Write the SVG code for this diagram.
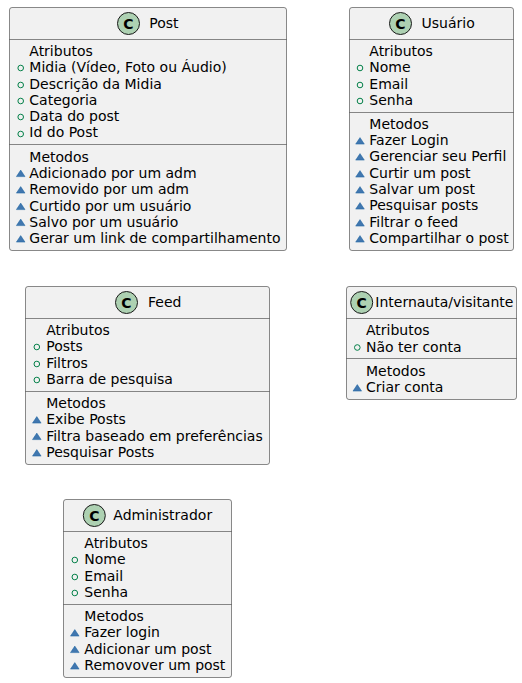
<svg xmlns="http://www.w3.org/2000/svg" width="522" height="683" viewBox="0 0 522 683">
<style>
text{font-family:"DejaVu Sans",sans-serif;font-size:14px;fill:#000}
.box{fill:#F1F1F1;stroke:#181818;stroke-width:.5}
.sep{stroke:#181818;stroke-width:.5;fill:none}
.ic{fill:#ADD1B2;stroke:#181818;stroke-width:1}
.c{font-weight:bold;font-size:14px;text-anchor:middle}
.o{fill:none;stroke:#038048;stroke-width:1}
.t{fill:#4177AF;stroke:#1963A0;stroke-width:.5}
</style>
<defs>
<circle id="o" class="o" r="2.8"/>
<polygon id="t" class="t" points="-4.3,3.1 4.3,3.1 0,-3.4"/>
</defs>
<g id="Post">
<rect class="box" x="9.5" y="7.5" width="277" height="243" rx="2.5"/>
<circle class="ic" cx="128.5" cy="23.5" r="11"/><text class="c" x="128.5" y="28.5">C</text>
<text x="149.3" y="28">Post</text>
<path class="sep" d="M9.5 39.5H286.5M9.5 144.5H286.5"/>
<text x="29.3" y="56">Atributos</text>
<use href="#o" x="20.7" y="68"/><text x="29.3" y="72">Midia (Vídeo, Foto ou Áudio)</text>
<use href="#o" x="20.7" y="85"/><text x="29.3" y="89">Descrição da Midia</text>
<use href="#o" x="20.7" y="101"/><text x="29.3" y="105">Categoria</text>
<use href="#o" x="20.7" y="117"/><text x="29.3" y="121">Data do post</text>
<use href="#o" x="20.7" y="134"/><text x="29.3" y="137">Id do Post</text>
<text x="29.3" y="162">Metodos</text>
<use href="#t" x="20.7" y="173.5"/><text x="29.3" y="178">Adicionado por um adm</text>
<use href="#t" x="20.7" y="190"/><text x="29.3" y="194">Removido por um adm</text>
<use href="#t" x="20.7" y="206.5"/><text x="29.3" y="211">Curtido por um usuário</text>
<use href="#t" x="20.7" y="222.5"/><text x="29.3" y="227">Salvo por um usuário</text>
<use href="#t" x="20.7" y="239"/><text x="29.3" y="243">Gerar um link de compartilhamento</text>
</g>
<g id="Usuario">
<rect class="box" x="349.5" y="7.5" width="164" height="243" rx="2.5"/>
<circle class="ic" cx="400.5" cy="23.5" r="11"/><text class="c" x="400.5" y="28.5">C</text>
<text x="421.5" y="28">Usuário</text>
<path class="sep" d="M349.5 39.5H513.5M349.5 112.5H513.5"/>
<text x="369.3" y="56">Atributos</text>
<use href="#o" x="360" y="68"/><text x="369.3" y="72">Nome</text>
<use href="#o" x="360" y="85"/><text x="369.3" y="89">Email</text>
<use href="#o" x="360" y="101"/><text x="369.3" y="105">Senha</text>
<text x="369.3" y="129">Metodos</text>
<use href="#t" x="360" y="141"/><text x="369.3" y="145">Fazer Login</text>
<use href="#t" x="360" y="157"/><text x="369.3" y="161">Gerenciar seu Perfil</text>
<use href="#t" x="360" y="174"/><text x="369.3" y="178">Curtir um post</text>
<use href="#t" x="360" y="190"/><text x="369.3" y="194">Salvar um post</text>
<use href="#t" x="360" y="206"/><text x="369.3" y="210">Pesquisar posts</text>
<use href="#t" x="360" y="223"/><text x="369.3" y="227">Filtrar o feed</text>
<use href="#t" x="360" y="239"/><text x="369.3" y="243">Compartilhar o post</text>
</g>
<g id="Feed">
<rect class="box" x="25.5" y="286.5" width="244" height="178" rx="2.5"/>
<circle class="ic" cx="126.5" cy="302.5" r="11"/><text class="c" x="126.5" y="307.5">C</text>
<text x="148" y="307">Feed</text>
<path class="sep" d="M25.5 318.5H269.5M25.5 391.5H269.5"/>
<text x="46.2" y="335">Atributos</text>
<use href="#o" x="36.8" y="347"/><text x="46.2" y="351">Posts</text>
<use href="#o" x="36.8" y="364"/><text x="46.2" y="368">Filtros</text>
<use href="#o" x="36.8" y="380"/><text x="46.2" y="384">Barra de pesquisa</text>
<text x="46.2" y="408">Metodos</text>
<use href="#t" x="36.8" y="420"/><text x="46.2" y="424">Exibe Posts</text>
<use href="#t" x="36.8" y="436.5"/><text x="46.2" y="441">Filtra baseado em preferências</text>
<use href="#t" x="36.8" y="453"/><text x="46.2" y="457">Pesquisar Posts</text>
</g>
<g id="Internauta">
<rect class="box" x="346.5" y="286.5" width="170" height="113" rx="2.5"/>
<circle class="ic" cx="361.7" cy="302.5" r="11"/><text class="c" x="361.7" y="307.5">C</text>
<text x="375.3" y="307">Internauta/visitante</text>
<path class="sep" d="M346.5 318.5H516.5M346.5 358.5H516.5"/>
<text x="366" y="335">Atributos</text>
<use href="#o" x="357.3" y="347.5"/><text x="366" y="352">Não ter conta</text>
<text x="366" y="376">Metodos</text>
<use href="#t" x="357.3" y="388"/><text x="366" y="392">Criar conta</text>
</g>
<g id="Administrador">
<rect class="box" x="63.5" y="499.5" width="168" height="178" rx="2.5"/>
<circle class="ic" cx="94.3" cy="515.5" r="11"/><text class="c" x="94.3" y="520.5">C</text>
<text x="113.3" y="520">Administrador</text>
<path class="sep" d="M63.5 531.5H231.5M63.5 604.5H231.5"/>
<text x="84.3" y="548">Atributos</text>
<use href="#o" x="74.8" y="560"/><text x="84.3" y="564">Nome</text>
<use href="#o" x="74.8" y="577"/><text x="84.3" y="581">Email</text>
<use href="#o" x="74.8" y="593"/><text x="84.3" y="597">Senha</text>
<text x="84.3" y="621">Metodos</text>
<use href="#t" x="74.8" y="633"/><text x="84.3" y="637">Fazer login</text>
<use href="#t" x="74.8" y="649.5"/><text x="84.3" y="654">Adicionar um post</text>
<use href="#t" x="74.8" y="666"/><text x="84.3" y="670">Removover um post</text>
</g>
<g id="connectors"/>
</svg>
